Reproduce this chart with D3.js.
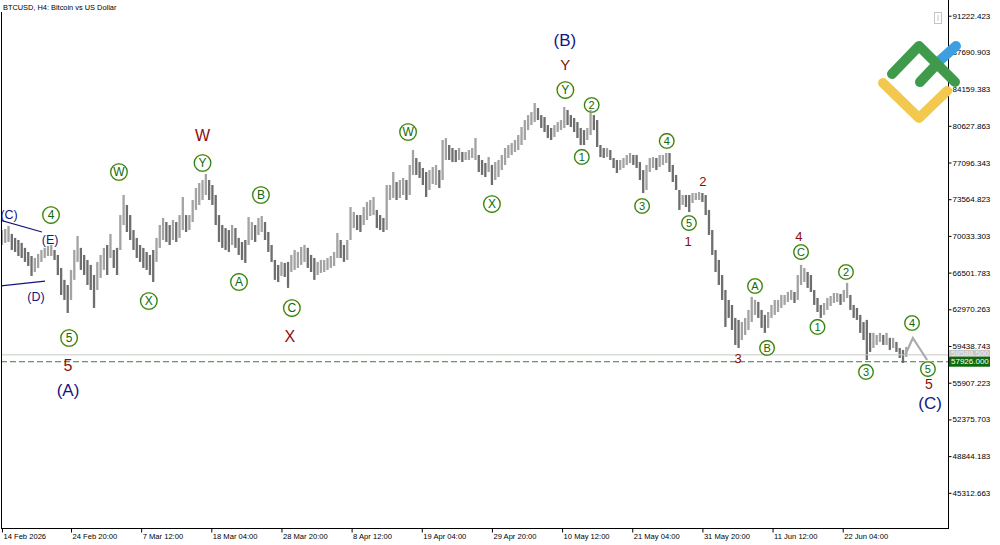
<!DOCTYPE html>
<html>
<head>
<meta charset="utf-8">
<script src="https://cdnjs.cloudflare.com/ajax/libs/d3/7.8.5/d3.min.js"></script>
<style>
  body { margin: 0; background: #fff; }
  svg { display: block; font-family: "Liberation Sans", Arial, sans-serif; }
</style>
</head>
<body>
<script>
// price axis
const priceTicks = [91222.423, 87690.903, 84159.383, 80627.863, 77096.343, 73564.823, 70033.303,
  66501.783, 62970.263, 59438.743, 55907.223, 52375.703, 48844.183, 45312.663];

// time axis
const timeTicks = ["2026-02-14T08:00Z", "2026-02-24T20:00Z", "2026-03-07T12:00Z", "2026-03-18T04:00Z",
  "2026-03-28T20:00Z", "2026-04-08T12:00Z", "2026-04-19T04:00Z", "2026-04-29T20:00Z", "2026-05-10T12:00Z",
  "2026-05-21T04:00Z", "2026-05-31T20:00Z", "2026-06-11T12:00Z", "2026-06-22T04:00Z"];
const timeLabels = ["14 Feb 2026", "24 Feb 20:00", "7 Mar 12:00", "18 Mar 04:00", "28 Mar 20:00", "8 Apr 12:00",
  "19 Apr 04:00", "29 Apr 20:00", "10 May 12:00", "21 May 04:00", "31 May 20:00", "11 Jun 12:00", "22 Jun 04:00"];

// price bars, one every 12 hours from 13 Feb 2026 20:00, in thousands of USD
const barStart = "2026-02-13T20:00Z";
const barHighK = [
  70.41, 70.60, 70.70, 70.99, 70.22, 69.84, 69.64, 69.36, 68.88, 68.49,
  68.10, 67.91, 68.30, 68.68, 68.88, 69.07, 69.16, 68.68, 68.20, 66.95,
  65.80, 65.31, 66.76, 68.68, 70.03, 68.88, 68.20, 67.72, 67.24, 66.27,
  67.53, 68.20, 68.88, 69.16, 70.22, 68.68, 68.88, 72.04, 73.97, 73.01,
  72.04, 70.60, 69.84, 69.16, 68.88, 68.49, 68.20, 68.68, 69.84, 71.08,
  71.76, 71.37, 71.08, 71.56, 71.37, 72.04, 73.78, 72.04, 72.04, 73.49,
  74.64, 75.12, 75.41, 75.99, 75.41, 74.93, 73.97, 72.04, 71.08, 70.79,
  70.60, 71.08, 70.79, 69.84, 69.45, 69.64, 71.85, 71.37, 71.08, 71.76,
  71.95, 71.37, 70.41, 69.16, 67.72, 67.24, 67.53, 67.43, 67.53, 68.20,
  68.68, 68.49, 68.97, 69.16, 68.88, 68.20, 67.91, 67.53, 67.72, 67.72,
  67.91, 68.10, 68.49, 70.31, 69.64, 69.16, 69.64, 72.81, 72.33, 72.04,
  72.04, 72.81, 73.30, 73.49, 73.78, 72.53, 72.04, 71.76, 74.93, 74.93,
  76.18, 75.22, 75.41, 75.61, 75.41, 76.86, 78.30, 77.53, 77.14, 76.57,
  76.18, 76.37, 76.66, 76.86, 76.37, 79.26, 79.45, 78.78, 78.49, 78.30,
  78.49, 78.11, 78.11, 78.30, 78.49, 79.45, 77.82, 77.34, 77.05, 77.62,
  76.86, 77.14, 77.34, 77.82, 78.49, 78.78, 78.97, 79.26, 79.74, 80.51,
  81.18, 81.66, 81.95, 82.82, 82.34, 81.66, 81.47, 80.70, 80.42, 80.70,
  80.99, 81.18, 82.44, 82.15, 81.66, 81.38, 80.99, 80.42, 80.22, 80.42,
  82.15, 81.66, 81.18, 78.78, 78.49, 78.49, 78.30, 77.53, 77.34, 77.34,
  77.53, 77.82, 78.01, 77.82, 77.82, 77.14, 76.37, 76.86, 77.53, 77.62,
  77.53, 77.82, 77.82, 78.01, 78.01, 76.86, 75.90, 74.45, 73.97, 73.97,
  73.97, 74.16, 74.16, 74.26, 74.16, 73.97, 72.53, 70.60, 68.68, 67.72,
  66.27, 64.83, 63.87, 63.39, 62.14, 61.95, 61.75, 62.14, 62.91, 64.16,
  63.87, 63.68, 62.91, 62.43, 62.71, 63.39, 63.87, 63.87, 64.35, 64.35,
  64.64, 64.83, 64.64, 66.27, 67.24, 66.95, 66.56, 66.27, 64.83, 64.06,
  63.39, 63.58, 64.06, 64.25, 64.54, 64.54, 64.45, 64.83, 65.51, 64.35,
  63.39, 63.10, 62.43, 61.75, 61.95, 60.70, 60.70, 60.50, 60.70, 60.50,
  60.70, 60.22, 60.22, 59.83, 59.25, 59.06, 59.35];
const barLowK = [
  69.16, 69.16, 69.36, 69.45, 68.68, 68.49, 68.10, 67.91, 67.53, 67.14,
  66.18, 66.56, 66.95, 67.53, 67.91, 68.10, 68.10, 67.72, 66.27, 64.35,
  63.87, 62.62, 63.87, 65.80, 67.53, 66.76, 66.27, 65.31, 64.83, 63.10,
  64.83, 65.99, 66.76, 66.27, 67.91, 66.95, 66.27, 68.68, 71.08, 70.41,
  69.64, 68.68, 67.91, 67.53, 66.95, 66.76, 66.27, 65.60, 67.53, 68.88,
  69.64, 69.45, 69.16, 69.64, 69.45, 69.84, 70.60, 70.41, 70.60, 71.37,
  72.53, 73.01, 73.49, 73.97, 73.49, 73.01, 71.08, 69.45, 68.88, 68.68,
  68.49, 69.16, 68.88, 68.20, 67.72, 67.43, 69.16, 69.64, 69.45, 70.12,
  70.41, 69.64, 68.49, 67.53, 65.80, 65.60, 66.18, 66.08, 65.03, 66.56,
  66.76, 66.95, 67.24, 67.53, 66.95, 66.56, 65.80, 66.27, 66.47, 66.56,
  66.76, 66.95, 67.14, 67.91, 67.91, 67.53, 67.72, 69.64, 70.79, 70.60,
  70.41, 71.08, 71.56, 71.95, 72.04, 70.79, 70.60, 70.41, 70.60, 73.49,
  73.68, 73.49, 73.68, 73.97, 73.49, 73.97, 75.90, 75.90, 75.61, 74.93,
  73.78, 74.45, 75.03, 74.93, 74.64, 75.41, 77.34, 77.34, 77.14, 77.14,
  77.34, 77.14, 77.34, 77.34, 77.53, 77.34, 76.18, 75.90, 75.70, 76.18,
  74.93, 75.41, 75.70, 76.37, 76.86, 77.53, 77.82, 78.11, 78.30, 78.78,
  79.26, 80.22, 80.70, 80.99, 81.18, 80.42, 80.03, 79.45, 79.26, 79.55,
  80.03, 80.22, 80.42, 80.70, 80.51, 80.03, 79.45, 78.78, 78.78, 79.26,
  79.74, 80.22, 78.59, 77.62, 77.53, 77.62, 77.34, 76.57, 76.09, 76.37,
  76.57, 76.86, 77.05, 76.86, 76.57, 75.41, 74.16, 74.45, 76.18, 76.57,
  76.37, 76.66, 76.86, 77.05, 76.18, 75.22, 74.45, 72.53, 73.01, 72.81,
  72.33, 73.20, 73.49, 73.49, 73.30, 72.04, 70.12, 68.20, 66.56, 65.31,
  63.87, 61.27, 62.14, 60.98, 59.54, 59.25, 60.02, 60.50, 60.98, 61.75,
  62.43, 62.14, 61.18, 60.70, 61.18, 62.14, 62.43, 62.71, 63.10, 63.39,
  63.68, 63.87, 63.58, 63.87, 65.31, 65.60, 65.03, 64.64, 63.39, 62.71,
  62.14, 62.43, 62.91, 63.29, 63.58, 63.68, 63.39, 63.68, 64.06, 62.91,
  62.14, 61.95, 60.70, 60.02, 58.09, 58.87, 59.25, 59.54, 59.83, 59.54,
  59.54, 59.06, 59.25, 58.87, 58.29, 57.81, 58.38];

const lastPrice = 57926.000;
const askPrice = 58588.500;

// forecast zigzag
const projTimes = ["2026-07-01T16:00Z", "2026-07-02T20:00Z", "2026-07-05T00:00Z"];
const projPrices = [58570, 60210, 58090];

// triangle boundary lines
const triUpper = [["2026-02-14T01:00Z", 71560], ["2026-02-20T10:00Z", 70410]];
const triLower = [["2026-02-14T01:00Z", 65210], ["2026-02-20T21:00Z", 65690]];

// wave labels: text, time, price, font size
const redLabels = [["W", "2026-03-16T20:00Z", 79740, 16], ["X", "2026-03-30T03:00Z", 60400, 16],
  ["Y", "2026-05-11T00:00Z", 86570, 15], ["5", "2026-02-24T09:00Z", 57610, 16],
  ["1", "2026-05-29T16:00Z", 69450, 13], ["2", "2026-05-31T22:00Z", 75220, 13],
  ["3", "2026-06-06T06:00Z", 58190, 13], ["4", "2026-06-15T12:00Z", 70020, 13],
  ["5", "2026-07-05T07:00Z", 55780, 14]];
const navyLabels = [["(B)", "2026-05-10T22:00Z", 88880, 17], ["(A)", "2026-02-24T09:00Z", 55110, 17],
  ["(C)", "2026-07-05T11:00Z", 53950, 17], ["(C)", "2026-02-15T10:00Z", 72040, 12.5],
  ["(E)", "2026-02-21T16:00Z", 69640, 12.5], ["(D)", "2026-02-19T12:00Z", 64150, 12.5]];
const circleBig = [["W", "2026-03-04T03:00Z", 76180], ["Y", "2026-03-16T20:00Z", 77050],
  ["X", "2026-03-08T16:00Z", 63770], ["A", "2026-03-22T09:00Z", 65600], ["B", "2026-03-25T17:00Z", 73970],
  ["C", "2026-03-30T10:00Z", 63090], ["W", "2026-04-17T02:00Z", 80030], ["X", "2026-04-29T20:00Z", 73100],
  ["Y", "2026-05-11T00:00Z", 84070], ["4", "2026-02-21T19:00Z", 72040], ["5", "2026-02-24T13:00Z", 60210]];
const circleSmall = [["2", "2026-05-15T00:00Z", 82630], ["1", "2026-05-13T12:00Z", 77630],
  ["4", "2026-05-26T10:00Z", 79170], ["3", "2026-05-22T16:00Z", 72910], ["5", "2026-05-29T19:00Z", 71270],
  ["A", "2026-06-08T20:00Z", 65210], ["B", "2026-06-10T16:00Z", 59250], ["C", "2026-06-15T20:00Z", 68480],
  ["1", "2026-06-18T08:00Z", 61270], ["2", "2026-06-22T16:00Z", 66560], ["3", "2026-06-25T17:00Z", 56940],
  ["4", "2026-07-02T17:00Z", 61650], ["5", "2026-07-05T03:00Z", 57220]];

const w = 1000, h = 545;
const right = 948, bottom = 528;

const svg = d3.select("body").append("svg")
  .attr("width", w)
  .attr("height", h);

const x = d3.scaleUtc()
  .domain([new Date("2026-02-24T20:00Z"), new Date("2026-06-22T04:00Z")])
  .range([71, 842.7]);
const y = d3.scaleLinear()
  .domain([45312.663, 91222.423])
  .range([492.8, 15.7]);

svg.append("clipPath").attr("id", "plot")
  .append("rect").attr("x", 1).attr("y", 0).attr("width", right - 1).attr("height", bottom);

const plot = svg.append("g").attr("clip-path", "url(#plot)");

// bars
const t0 = new Date(barStart).getTime();
const step = 12 * 3600e3;
const bars = barHighK.map((hi, i) => ({ t: new Date(t0 + i * step), hi: hi * 1000, lo: barLowK[i] * 1000 }));
const bw = x(new Date(t0 + step)) - x(new Date(t0));

plot.selectAll("rect.bar")
  .data(bars)
  .enter()
  .append("rect")
  .attr("class", "bar")
  .attr("x", d => x(d.t) - bw * 0.35)
  .attr("y", d => y(d.hi))
  .attr("width", bw * 0.7)
  .attr("height", d => y(d.lo) - y(d.hi))
  .attr("fill", (d, i) => {
    if (i == 0) return "#7a7a7a";
    const prev = bars[i - 1];
    return (d.hi + d.lo) >= (prev.hi + prev.lo) ? "#a3a3a3" : "#6e6e6e";
  });

// ask line and last price line
plot.append("line")
  .attr("x1", 1).attr("x2", right)
  .attr("y1", y(askPrice)).attr("y2", y(askPrice))
  .attr("stroke", "#c8c8c8").attr("stroke-width", 1);
plot.append("line")
  .attr("x1", 1).attr("x2", right)
  .attr("y1", y(lastPrice)).attr("y2", y(lastPrice))
  .attr("stroke", "#3a7d3a").attr("stroke-width", 1)
  .attr("stroke-dasharray", "6,3");

// forecast
plot.append("path")
  .datum(projTimes.map((t, i) => [new Date(t), projPrices[i]]))
  .attr("d", d3.line().x(d => x(d[0])).y(d => y(d[1])))
  .attr("fill", "none")
  .attr("stroke", "#aaaaaa")
  .attr("stroke-width", 2.2);

// triangle lines
[triUpper, triLower].forEach(seg => {
  plot.append("path")
    .datum(seg)
    .attr("d", d3.line().x(d => x(new Date(d[0]))).y(d => y(d[1])))
    .attr("fill", "none")
    .attr("stroke", "#14147e")
    .attr("stroke-width", 1.2);
});

// labels
plot.selectAll("text.red")
  .data(redLabels)
  .enter()
  .append("text")
  .attr("x", d => x(new Date(d[1])))
  .attr("y", d => y(d[2]))
  .attr("text-anchor", "middle")
  .attr("dominant-baseline", "central")
  .attr("font-size", d => d[3])
  .attr("fill", "#8b0d0d")
  .text(d => d[0]);

plot.selectAll("text.navy")
  .data(navyLabels)
  .enter()
  .append("text")
  .attr("x", d => x(new Date(d[1])))
  .attr("y", d => y(d[2]))
  .attr("text-anchor", "middle")
  .attr("dominant-baseline", "central")
  .attr("font-size", d => d[3])
  .attr("fill", "#16167e")
  .text(d => d[0]);

function circled(data, r, fs) {
  const g = plot.append("g").selectAll("g")
    .data(data)
    .enter()
    .append("g")
    .attr("transform", d => `translate(${x(new Date(d[1]))},${y(d[2])})`);
  g.append("circle")
    .attr("r", r)
    .attr("fill", "none")
    .attr("stroke", "#e6df96")
    .attr("stroke-width", 2);
  g.append("circle")
    .attr("r", r)
    .attr("fill", "none")
    .attr("stroke", "#1f7d1f")
    .attr("stroke-width", 1.1);
  g.append("text")
    .attr("text-anchor", "middle")
    .attr("dominant-baseline", "central")
    .attr("font-size", fs)
    .attr("fill", "#0d690d")
    .text(d => d[0]);
}
circled(circleBig, 8.3, 12);
circled(circleSmall, 7.3, 11);

// frame
svg.append("line").attr("x1", 1.5).attr("x2", 1.5).attr("y1", 12).attr("y2", bottom)
  .attr("stroke", "#000");
svg.append("line").attr("x1", right + 0.5).attr("x2", right + 0.5).attr("y1", 0).attr("y2", bottom + 0.5)
  .attr("stroke", "#000");
svg.append("line").attr("x1", 1).attr("x2", right + 1).attr("y1", bottom + 0.5).attr("y2", bottom + 0.5)
  .attr("stroke", "#000");

// axes
const yAxis = d3.axisRight(y).tickValues(priceTicks).tickSize(3).tickSizeOuter(0).tickPadding(1)
  .tickFormat(d3.format(".3f"));
const ya = svg.append("g")
  .attr("transform", `translate(${right + 0.5},0)`)
  .style("font-size", "8px")
  .call(yAxis);
ya.select(".domain").remove();
ya.selectAll("text").attr("fill", "#000").attr("font-family", "Liberation Sans, Arial, sans-serif");

const xAxis = d3.axisBottom(x).tickValues(timeTicks.map(t => new Date(t))).tickSize(4).tickSizeOuter(0)
  .tickPadding(1).tickFormat((d, i) => timeLabels[i]);
const xa = svg.append("g")
  .attr("transform", `translate(0,${bottom + 0.5})`)
  .style("font-size", "7.6px")
  .call(xAxis);
xa.select(".domain").remove();
xa.selectAll("text").attr("text-anchor", "start").attr("dx", 1)
  .attr("fill", "#000").attr("font-family", "Liberation Sans, Arial, sans-serif");

// price tags: the ask tag sits partly under the last price tag
function tag(price, bg, fg, top, ht) {
  svg.append("rect").attr("x", 949).attr("y", y(price) - top).attr("width", 41).attr("height", ht)
    .attr("fill", bg);
  svg.append("text").attr("x", 951).attr("y", y(price) - top + ht / 2).attr("dominant-baseline", "central")
    .attr("font-size", "8px").attr("fill", fg).text(d3.format(".3f")(price));
}
tag(askPrice, "#c6c6c6", "#eeeeee", 5, 8);
tag(lastPrice, "#0b6a0b", "#ffffff", 5, 10);

// title
svg.append("text").attr("x", 3).attr("y", 10).attr("font-size", "7.4px").attr("fill", "#000")
  .text("BTCUSD, H4:  Bitcoin vs US Dollar");

// small trade icon
svg.append("rect").attr("x", 934.5).attr("y", 12.5).attr("width", 7).attr("height", 11)
  .attr("fill", "#fff").attr("stroke", "#c4c4c4");
svg.append("line").attr("x1", 938).attr("x2", 938).attr("y1", 15).attr("y2", 21).attr("stroke", "#c4c4c4");

// logo
const logo = svg.append("g").attr("fill", "none").attr("stroke-linecap", "round").attr("stroke-linejoin", "round")
  .attr("stroke-width", 10);
logo.append("path").attr("d", "M937,63 L956,46").attr("stroke", "#3d9fe0");
logo.append("path").attr("d", "M892,74 L919,46 L955,82 M920,82 L937,64").attr("stroke", "#3f9a4b");
logo.append("path").attr("d", "M883,83 L919,118 L947,91").attr("stroke", "#f2c94e");
</script>
</body>
</html>
